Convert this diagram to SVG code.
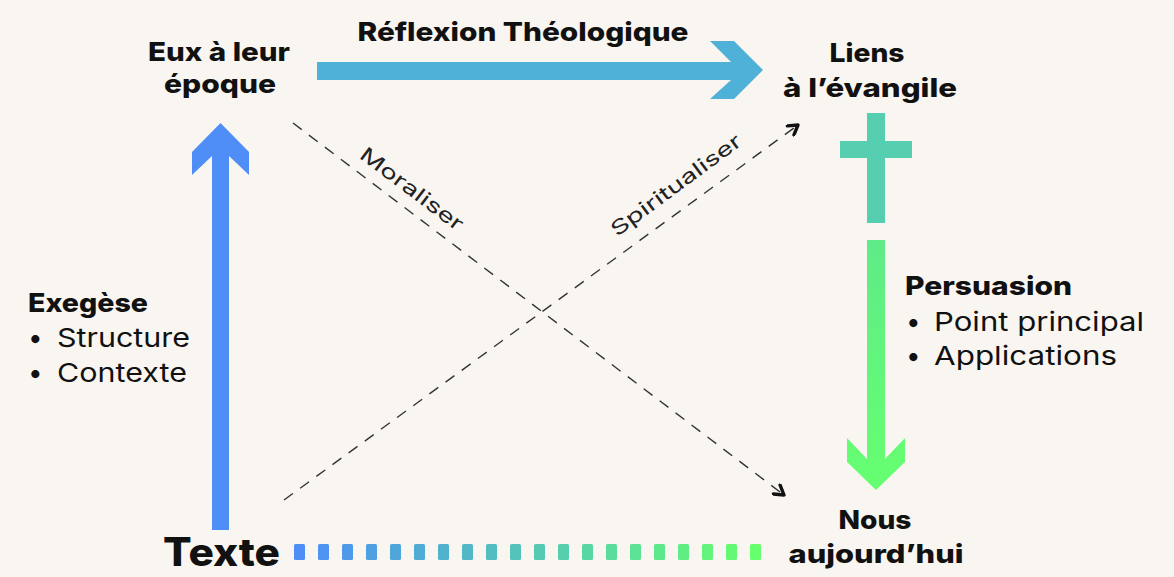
<svg xmlns="http://www.w3.org/2000/svg" width="1174" height="577" viewBox="0 0 1174 577">
<defs>
<style>
.t{font-family:Inter,"Noto Sans","Liberation Sans",sans-serif;font-weight:800;font-size:26px;fill:#111;}
.r{font-family:Inter,"Noto Sans","Liberation Sans",sans-serif;font-weight:400;font-size:26px;fill:#111;}
.d{font-family:Inter,"Noto Sans","Liberation Sans",sans-serif;font-weight:400;font-size:20px;fill:#222;}
.dash{fill:none;stroke:#333;stroke-width:1.4;stroke-dasharray:11 9;}
</style>
<marker id="ah" viewBox="0 0 10 10" refX="8" refY="5" markerWidth="14" markerHeight="14" markerUnits="userSpaceOnUse" orient="auto">
<path d="M1.5,1 L8,5 L1.5,9" fill="none" stroke="#111" stroke-width="2.4" stroke-linecap="round" stroke-linejoin="round"/>
</marker>
<linearGradient id="gg" x1="0" y1="240" x2="0" y2="490" gradientUnits="userSpaceOnUse">
<stop offset="0" stop-color="#5FEB88"/>
<stop offset="1" stop-color="#66FF70"/>
</linearGradient>
</defs>
<rect width="1174" height="577" fill="#F9F6F1"/>

<g id="connectors">
<polygon id="arrow-exegese" fill="#4F8EF7" points="212,530 212,156 192,175 192,152 220.5,123 249,152 249,175 229,156 229,530"/>
<polygon id="arrow-reflexion" fill="#4FB0D8" points="317,62 731,62 710,41 734,41 763,70 734,99 710,99 731,80 317,80"/>
<polygon id="arrow-persuasion" fill="url(#gg)" points="867,240 885,240 885,459 905,438 905,462 876,490 847,462 847,438 867,459"/>
<line class="dash" x1="293" y1="123" x2="784" y2="495" marker-end="url(#ah)"/>
<line class="dash" x1="284" y1="500" x2="798" y2="125" marker-end="url(#ah)"/>
<g id="dots">
<rect x="294" y="544" width="11" height="16" rx="1.5" fill="#4F8EF7"/>
<rect x="318" y="544" width="11" height="16" rx="1.5" fill="#4F94F0"/>
<rect x="342" y="544" width="11" height="16" rx="1.5" fill="#4F9AE8"/>
<rect x="366" y="544" width="11" height="16" rx="1.5" fill="#50A0E1"/>
<rect x="390" y="544" width="11" height="16" rx="1.5" fill="#50A6DA"/>
<rect x="414" y="544" width="11" height="16" rx="1.5" fill="#50ACD4"/>
<rect x="438" y="544" width="11" height="16" rx="1.5" fill="#51B2CE"/>
<rect x="462" y="544" width="11" height="16" rx="1.5" fill="#52B8C8"/>
<rect x="486" y="544" width="11" height="16" rx="1.5" fill="#53BEC1"/>
<rect x="510" y="544" width="11" height="16" rx="1.5" fill="#54C4BA"/>
<rect x="534" y="544" width="11" height="16" rx="1.5" fill="#55CAB3"/>
<rect x="558" y="544" width="11" height="16" rx="1.5" fill="#56D0AC"/>
<rect x="582" y="544" width="11" height="16" rx="1.5" fill="#58D6A4"/>
<rect x="606" y="544" width="11" height="16" rx="1.5" fill="#5ADC9C"/>
<rect x="630" y="544" width="11" height="16" rx="1.5" fill="#5CE294"/>
<rect x="654" y="544" width="11" height="16" rx="1.5" fill="#5EE88C"/>
<rect x="678" y="544" width="11" height="16" rx="1.5" fill="#60EE84"/>
<rect x="702" y="544" width="11" height="16" rx="1.5" fill="#62F37C"/>
<rect x="726" y="544" width="11" height="16" rx="1.5" fill="#64F975"/>
<rect x="750" y="544" width="11" height="16" rx="1.5" fill="#66FF6E"/>
</g>
</g>

<g id="node-eux">
<text class="t" x="219" y="61" text-anchor="middle" textLength="142" lengthAdjust="spacingAndGlyphs">Eux à leur</text>
<text class="t" x="220" y="93" text-anchor="middle" textLength="112" lengthAdjust="spacingAndGlyphs">époque</text>
</g>
<g id="label-reflexion">
<text class="t" x="523" y="41" text-anchor="middle" textLength="331" lengthAdjust="spacingAndGlyphs">Réflexion Théologique</text>
</g>
<g id="node-liens">
<text class="t" x="867" y="62" text-anchor="middle" textLength="75" lengthAdjust="spacingAndGlyphs">Liens</text>
<text class="t" x="870" y="97" text-anchor="middle" textLength="174" lengthAdjust="spacingAndGlyphs">à l’évangile</text>
</g>
<g id="node-cross">
<rect x="867" y="113" width="18" height="110" fill="#55CFAF"/>
<rect x="840" y="141" width="72" height="17" fill="#55CFAF"/>
</g>
<g id="label-exegese">
<text class="t" x="28" y="312" textLength="120" lengthAdjust="spacingAndGlyphs">Exegèse</text>
<text class="r" x="28" y="347">•</text>
<text class="r" x="57" y="347" textLength="133" lengthAdjust="spacingAndGlyphs">Structure</text>
<text class="r" x="28" y="382">•</text>
<text class="r" x="57" y="382" textLength="130" lengthAdjust="spacingAndGlyphs">Contexte</text>
</g>
<g id="label-persuasion">
<text class="t" x="905" y="295" textLength="167" lengthAdjust="spacingAndGlyphs">Persuasion</text>
<text class="r" x="906" y="331">•</text>
<text class="r" x="934" y="331" textLength="210" lengthAdjust="spacingAndGlyphs">Point principal</text>
<text class="r" x="906" y="365">•</text>
<text class="r" x="934" y="365" textLength="183" lengthAdjust="spacingAndGlyphs">Applications</text>
</g>
<g id="label-moraliser">
<text class="d" transform="translate(412,189) rotate(37)" x="0" y="7" text-anchor="middle" textLength="124" lengthAdjust="spacingAndGlyphs">Moraliser</text>
</g>
<g id="label-spiritualiser">
<text class="d" transform="translate(676,185) rotate(-36.5)" x="0" y="7" text-anchor="middle" textLength="157" lengthAdjust="spacingAndGlyphs">Spiritualiser</text>
</g>
<g id="node-texte">
<text class="t" x="163" y="566" style="font-size:39px" textLength="117" lengthAdjust="spacingAndGlyphs">Texte</text>
</g>
<g id="node-nous">
<text class="t" x="875" y="529" text-anchor="middle" textLength="73" lengthAdjust="spacingAndGlyphs">Nous</text>
<text class="t" x="876" y="563" text-anchor="middle" textLength="175" lengthAdjust="spacingAndGlyphs">aujourd’hui</text>
</g>
</svg>
